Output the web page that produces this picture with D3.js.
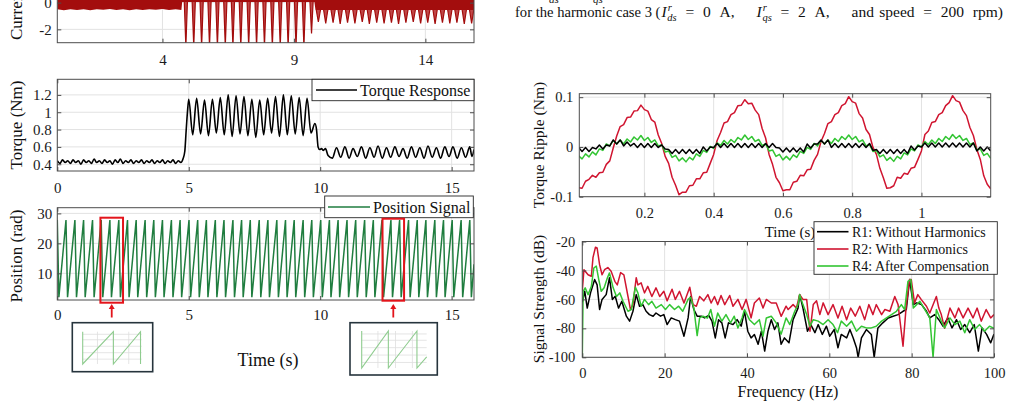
<!DOCTYPE html>
<html>
<head>
<meta charset="utf-8">
<script src="https://cdn.jsdelivr.net/npm/d3@7"></script>
<style>
  body { margin: 0; background: #fff; }
  svg { display: block; font-family: "Liberation Serif", "DejaVu Serif", serif; }
</style>
</head>
<body>
<svg id="chart" width="1015" height="402"></svg>
<script>
// ---------- data ----------

// current panel: dense band (lower edge) and the downward spikes
const currentBandEdge = [[0,-0.5],[0.25,-0.56],[0.5,-0.49],[0.75,-0.55],[1.0,-0.5],[1.25,-0.57],[1.5,-0.5],[1.75,-0.54],[2.0,-0.48],[2.25,-0.55],[2.5,-0.5],[2.75,-0.56],[3.0,-0.49],[3.25,-0.55],[3.5,-0.5],[3.75,-0.54],[4.0,-0.48],[4.25,-0.55],[4.5,-0.5],[4.72,-0.55],[4.75,0.05],[9.78,0.05],[9.82,-0.55],[15.85,-0.55]];
const currentSpikeTimes = [4.89,5.19,5.49,5.79,6.09,6.39,6.68,6.98,7.28,7.58,7.88,8.18,8.48,8.78,9.08,9.38,9.67,
  9.93,10.21,10.49,10.76,11.04,11.32,11.6,11.87,12.15,12.43,12.71,12.98,13.26,13.54,13.82,14.09,14.37,14.65,14.93,15.2,15.48,15.76];
const currentSpikeDepths = [-3.3,-3.3,-3.3,-3.3,-3.3,-3.3,-3.3,-3.3,-3.3,-3.3,-3.3,-3.3,-3.3,-3.3,-3.3,-3.3,-2.3,
  -1.45,-1.55,-1.5,-1.6,-1.5,-1.55,-1.45,-1.6,-1.5,-1.55,-1.5,-1.6,-1.5,-1.45,-1.55,-1.5,-1.6,-1.5,-1.55,-1.5,-1.6,-1.55];

// torque response [time, Nm]
const torqueResponse = [
  [0,0.44],[0.1,0.41],[0.2,0.45],[0.3,0.42],[0.4,0.44],[0.5,0.41],[0.6,0.45],[0.7,0.42],[0.8,0.44],[0.9,0.40],
  [1.0,0.45],[1.1,0.42],[1.2,0.44],[1.3,0.41],[1.4,0.46],[1.5,0.42],[1.6,0.44],[1.7,0.41],[1.8,0.45],[1.9,0.42],
  [2.0,0.44],[2.1,0.40],[2.2,0.45],[2.3,0.42],[2.4,0.46],[2.5,0.41],[2.6,0.44],[2.7,0.42],[2.8,0.45],[2.9,0.41],
  [3.0,0.44],[3.1,0.42],[3.2,0.45],[3.3,0.41],[3.4,0.44],[3.5,0.42],[3.6,0.45],[3.7,0.41],[3.8,0.44],[3.9,0.42],
  [4.0,0.45],[4.1,0.41],[4.2,0.44],[4.3,0.42],[4.4,0.45],[4.5,0.41],[4.6,0.44],[4.7,0.42],[4.78,0.46],
  [4.85,0.55],[4.9,0.78],[4.95,1.0],[5.0,1.15],
  [5.15,0.74],[5.3,1.16],[5.45,0.75],[5.6,1.14],[5.75,0.73],[5.9,1.15],[6.05,0.76],[6.2,1.17],[6.35,0.74],[6.5,1.2],
  [6.65,0.72],[6.8,1.19],[6.95,0.75],[7.1,1.18],[7.25,0.73],[7.4,1.15],[7.55,0.71],[7.7,1.14],[7.85,0.74],[8.0,1.16],
  [8.15,0.76],[8.3,1.18],[8.45,0.72],[8.6,1.2],[8.75,0.74],[8.9,1.19],[9.05,0.75],[9.2,1.17],[9.35,0.73],[9.5,1.16],
  [9.65,0.76],[9.8,0.87],[9.86,0.8],[9.92,0.6],[9.98,0.57],[10.05,0.58],[10.12,0.56],[10.2,0.58],[10.3,0.5],
  [10.46,0.47],[10.62,0.59],[10.78,0.48],[10.94,0.6],[11.1,0.47],[11.25,0.58],[11.41,0.49],[11.57,0.6],[11.73,0.47],
  [11.89,0.59],[12.05,0.48],[12.2,0.61],[12.36,0.47],[12.52,0.59],[12.68,0.48],[12.84,0.6],[13.0,0.49],[13.15,0.58],
  [13.31,0.47],[13.47,0.6],[13.63,0.48],[13.79,0.59],[13.95,0.47],[14.1,0.61],[14.26,0.48],[14.42,0.59],[14.58,0.47],
  [14.74,0.6],[14.9,0.49],[15.05,0.6],[15.21,0.47],[15.37,0.59],[15.53,0.48],[15.69,0.6],[15.77,0.49],[15.85,0.57]
];

// position signal: sawtooth peaks and the troughs right after each wrap
const positionPeakTimes = [0,0.33,0.67,1.0,1.34,1.67,2.0,2.34,2.67,3.0,3.34,3.67,4.0,4.34,4.67,5.01,5.34,5.67,6.01,6.34,
  6.68,7.01,7.34,7.68,8.01,8.35,8.68,9.01,9.35,9.68,10.02,10.35,10.68,11.02,11.35,11.69,12.02,12.35,12.69,13.02,
  13.36,13.69,14.02,14.36,14.69,15.02,15.36,15.69];
const positionTroughTimes = [0.06,0.39,0.73,1.06,1.4,1.73,2.06,2.4,2.73,3.06,3.4,3.73,4.06,4.4,4.73,5.07,5.4,5.73,6.07,6.4,
  6.74,7.07,7.4,7.74,8.07,8.41,8.74,9.07,9.41,9.74,10.08,10.41,10.74,11.08,11.41,11.75,12.08,12.41,12.75,13.08,
  13.42,13.75,14.08,14.42,14.75,15.08,15.42,15.75];
const positionHigh = 27.8;
const positionLow = 2.0;
const positionEnd = [15.85, 13];

// highlighted windows and their zoom insets (inset traces in 0..1 units)
const highlightWindows = [[1.64, 2.5], [12.37, 13.19]];
const insetTraces = [
  [[0,1],[0,0],[0.52,1],[0.52,0],[0.98,1],[0.98,0]],
  [[0,1],[0,0],[0.41,1],[0.41,0],[0.85,1],[0.85,0],[1,0.3]]
];

// torque ripple, sampled every 0.01 s from 0.01 s
const rippleStart = 0.01;
const rippleStep = 0.01;
const rippleR2 = [-0.082,-0.083,-0.069,-0.065,-0.057,-0.061,-0.052,-0.051,-0.035,-0.028,
  -0.002,0.022,0.041,0.045,0.059,0.060,0.072,0.073,0.084,0.075,
  0.072,0.055,0.050,0.024,0.007,-0.019,-0.033,-0.061,-0.077,-0.096,
  -0.091,-0.091,-0.078,-0.077,-0.064,-0.064,-0.052,-0.051,-0.033,-0.015,
  0.013,0.029,0.048,0.051,0.065,0.069,0.083,0.084,0.095,0.087,
  0.088,0.074,0.065,0.037,0.018,-0.015,-0.035,-0.061,-0.072,-0.088,
  -0.086,-0.086,-0.071,-0.069,-0.057,-0.058,-0.046,-0.045,-0.027,-0.015,
  0.011,0.027,0.047,0.051,0.065,0.069,0.083,0.087,0.101,0.091,
  0.088,0.067,0.058,0.035,0.025,-0.001,-0.015,-0.043,-0.062,-0.083,
  -0.082,-0.078,-0.061,-0.063,-0.053,-0.055,-0.043,-0.041,-0.025,-0.008,
  0.025,0.032,0.049,0.051,0.065,0.069,0.083,0.089,0.103,0.093,
  0.090,0.073,0.063,0.039,0.023,-0.005,-0.025,-0.058,-0.075,-0.084];
const rippleR1 = [-0.001,-0.009,-0.001,-0.009,-0.001,-0.004,0.004,-0.004,0.004,0.002,
  0.014,0.006,0.014,0.002,0.010,0.002,0.007,-0.001,0.007,-0.001,
  0.007,-0.001,0.007,-0.001,0.004,-0.004,-0.005,-0.013,-0.005,-0.013,
  -0.005,-0.013,-0.005,-0.013,-0.005,-0.013,0.000,-0.008,0.000,-0.001,
  0.007,-0.001,0.007,-0.001,0.007,-0.001,0.007,-0.001,0.007,-0.001,
  0.007,-0.001,0.007,-0.001,0.007,-0.001,0.007,-0.001,-0.002,-0.010,
  -0.002,-0.010,-0.002,-0.010,-0.002,-0.010,0.006,-0.002,0.006,0.006,
  0.014,0.006,0.014,-0.001,0.007,-0.001,0.007,-0.001,0.007,-0.001,
  0.007,-0.001,0.007,-0.001,0.007,-0.007,-0.005,-0.013,-0.005,-0.013,
  -0.005,-0.013,-0.005,-0.013,-0.005,-0.013,0.002,-0.006,0.002,0.000,
  0.008,0.000,0.008,0.000,0.008,0.000,0.008,0.000,0.008,0.000,
  0.008,0.000,0.008,0.000,0.008,-0.008,0.000,-0.008,0.000,-0.008];
const rippleR4 = [-0.018,-0.024,-0.014,-0.020,-0.010,-0.016,-0.004,-0.007,0.006,0.002,
  0.013,0.006,0.014,0.006,0.016,0.010,0.020,0.014,0.023,0.013,
  0.019,0.009,0.014,0.002,0.004,-0.010,-0.008,-0.021,-0.017,-0.028,
  -0.022,-0.030,-0.021,-0.026,-0.014,-0.019,-0.007,-0.011,0.001,-0.003,
  0.008,0.003,0.013,0.006,0.015,0.009,0.019,0.014,0.024,0.015,
  0.021,0.011,0.015,0.003,0.006,-0.008,-0.006,-0.019,-0.015,-0.026,
  -0.019,-0.026,-0.016,-0.021,-0.009,-0.013,-0.001,-0.005,0.007,0.002,
  0.013,0.006,0.014,0.007,0.017,0.011,0.021,0.015,0.024,0.015,
  0.021,0.010,0.014,0.002,0.005,-0.009,-0.007,-0.020,-0.016,-0.027,
  -0.021,-0.029,-0.019,-0.024,-0.012,-0.016,-0.004,-0.008,0.004,0.000,
  0.011,0.005,0.014,0.007,0.017,0.011,0.021,0.015,0.025,0.017,
  0.023,0.013,0.017,0.005,0.008,-0.006,-0.004,-0.017,-0.013,-0.023];

// spectrum [Hz, dB]
const spectrumR1 = [[0,-62],[0.6,-54.4],[1.2,-66],[2,-55.5],[3,-46.3],[3.6,-50],[4.2,-67],[4.8,-60],[5.8,-56.7],[6.6,-45],
  [7.3,-60],[8,-57.8],[8.8,-66],[9.6,-61.3],[10.7,-71.6],[11.5,-75],[12.3,-68.2],[13.1,-56.7],[13.9,-64.7],[14.7,-63.6],
  [15.5,-68.2],[16.3,-70.5],[17.2,-71.6],[17.9,-69.4],[19,-71.6],[19.8,-70.5],[20.6,-77.4],[21.6,-72.8],[22.6,-74],[23.6,-75],
  [24.7,-85.4],[25.7,-72.8],[26.3,-58],[27.1,-67],[27.9,-71.6],[28.9,-71.6],[29.7,-72.8],[30.7,-71],[31.5,-75],[32.3,-86.6],
  [33.1,-74],[33.9,-76.2],[34.7,-86.6],[35.5,-76.2],[36.6,-77.4],[37.6,-74],[38.6,-78.5],[39.4,-68.2],[40.2,-82],[41,-86.6],
  [41.8,-84.2],[42.7,-91],[43.5,-82],[44.3,-95.7],[45.1,-82],[45.9,-74],[46.7,-80.8],[47.5,-76.2],[48.3,-91],[49.1,-86.6],
  [50.2,-90],[51.2,-74],[52.4,-66],[52.8,-56.7],[53.6,-66],[54.7,-82],[55.5,-77.4],[56.5,-83],[57.3,-77.4],[58.3,-84.2],
  [59.3,-78.5],[60.1,-85.4],[61.2,-80.8],[62.1,-93.4],[62.9,-84.2],[64.2,-86.6],[65,-80.8],[65.8,-86.6],[66.6,-93.4],[67,-100],
  [67.8,-86.6],[69,-80.8],[70.2,-84.2],[70.9,-100],[71.8,-79.7],[73,-76.2],[74.3,-72.8],[75.5,-71.6],[76.7,-70.5],[77.9,-68.2],
  [78.7,-67],[79.5,-46.3],[80.4,-63.6],[81.2,-62.4],[82.4,-63.6],[83.6,-68.2],[84.4,-72.8],[85.6,-70.5],[86.6,-74],[87.6,-78.5],
  [88.8,-72.8],[89.8,-79.7],[90.9,-74],[91.9,-80.8],[92.9,-77.4],[94.1,-83],[95.2,-77.4],[96.2,-95.7],[97.1,-79.7],[98.2,-84.2],
  [99.2,-90],[100,-84]];
const spectrumR2 = [[0,-54],[0.4,-39.5],[1.4,-43],[2.2,-44],[2.6,-31],[3.2,-24],[3.6,-24.5],[4.2,-36],[4.8,-43],[5.4,-39.5],
  [6.2,-38],[7,-40.5],[7.9,-47.5],[8.5,-50],[9.3,-41.5],[10.1,-43],[11.1,-58],[11.7,-67],[12.3,-63.6],[13.1,-45],
  [13.5,-50],[14.3,-48.6],[15.1,-55.5],[15.9,-51],[16.9,-58],[17.9,-52],[18.8,-58],[19.8,-54.4],[20.6,-61],[21.8,-53],
  [22.6,-60],[23.6,-54.4],[24.7,-62.5],[26.1,-51.6],[26.9,-63.6],[27.7,-64.7],[28.5,-58],[29.5,-61],[30.5,-56.7],[31.3,-62.5],
  [32.1,-58],[32.9,-63.6],[33.7,-57.3],[34.6,-63.6],[35.8,-57.3],[36.6,-64.7],[37.8,-60],[38.8,-67],[39.8,-60],[41,-72.8],
  [41.8,-62.5],[43,-59],[43.9,-66],[44.7,-60],[45.9,-62.5],[47.1,-62.5],[48.3,-71.7],[49.5,-64.7],[50,-67],[51.2,-63.6],
  [52,-66],[52.8,-56.7],[53.6,-60],[54.5,-60],[55.3,-82],[56.1,-63.6],[56.9,-61],[57.7,-70.5],[58.5,-62.4],[59.7,-70.5],
  [60.9,-63.6],[62.1,-72.8],[63.1,-64.7],[64.2,-74],[65.2,-66],[66.3,-71.6],[67.4,-64.7],[68.6,-74],[69.6,-63.6],[70.6,-70.5],
  [71.4,-63.6],[72.7,-70.5],[73.5,-67],[74.7,-68.2],[75.9,-58],[76.7,-63.6],[77.9,-92.3],[78.7,-63.6],[79.5,-46.3],[79.9,-46.3],
  [80.7,-62.4],[81.5,-56.7],[82.3,-60],[83.6,-64.7],[84.4,-69.4],[86,-58],[86.6,-66],[87.2,-70.5],[88,-80],[89.3,-66],
  [90.5,-72.8],[91.4,-66],[92.5,-72.8],[93.7,-66],[94.9,-72.8],[95.9,-66],[96.9,-75],[98.1,-67],[99.2,-72.8],[100,-70.5]];
const spectrumR4 = [[0,-100],[0.2,-54.4],[0.7,-52],[1.4,-56.7],[2.2,-51],[2.8,-38.3],[3.4,-37],[4,-46.3],[4.6,-54.4],[5.3,-52],
  [6.1,-45],[6.6,-41.7],[7.5,-52],[8.3,-58],[9.1,-55.5],[9.9,-61.3],[11.1,-68.2],[11.9,-67],[12.9,-51.6],[13.5,-55.5],
  [14.3,-64.7],[15.1,-60],[16.1,-63.6],[16.9,-61.3],[17.9,-66],[19.2,-63.6],[20.2,-67],[21.2,-63.6],[22.4,-67],[23.4,-64.7],
  [24.4,-68.2],[25.7,-60],[26.3,-58.5],[27.1,-66],[27.9,-85],[28.5,-72.8],[29.3,-71.6],[30.4,-72.8],[31.2,-67],[32.1,-78.5],
  [32.9,-69.4],[33.9,-75],[34.9,-70.5],[36,-76.2],[36.9,-71.6],[37.8,-79.7],[38.8,-72.8],[39.4,-67],[40.6,-74],[41.8,-77.4],
  [43,-74],[43.9,-85.4],[44.7,-72.8],[45.9,-71.6],[47.1,-76.2],[48.3,-84],[49.5,-72.8],[50.4,-77.4],[51.6,-68.2],[52.4,-63.6],
  [52.8,-56.7],[53.6,-63.6],[54.5,-70.5],[55.3,-78.5],[56.1,-74],[57.3,-75],[58.5,-77.4],[59.7,-74],[60.9,-77.4],[62,-83],
  [62.9,-75],[64.2,-78.5],[65.4,-75],[66.6,-82],[67.8,-78.5],[69,-79.7],[70.2,-79.7],[71.4,-78.5],[72.7,-75],[73.9,-72.8],
  [75.1,-70.5],[76.3,-68.2],[77.5,-63.6],[78.3,-67],[79.1,-47.5],[79.8,-46.3],[80.4,-66],[81.2,-63.6],[82,-61.3],[83.2,-67],
  [84.4,-72.8],[85.2,-100],[86,-67],[87.2,-75],[88,-79.7],[89.3,-72.8],[90.5,-77.4],[91.7,-75],[92.9,-83],[94.1,-74],
  [95.3,-80.8],[96.5,-77.4],[97.7,-82],[98.9,-78.5],[100,-80]];

const seriesLabels = ["R1: Without Harmonics", "R2: With Harmonics", "R4: After Compensation"];
const seriesColors = ["#000000", "#d01530", "#33c533"];

// ---------- drawing ----------
const svg = d3.select("#chart");
const font = "Liberation Serif";
let clipCount = 0;

function panel(p) {
  const x = d3.scaleLinear().domain(p.xDomain).range([p.left, p.right]);
  const y = d3.scaleLinear().domain(p.yDomain).range([p.bottom, p.top]);
  const g = svg.append("g");
  const clipId = "clip" + clipCount++;
  g.append("clipPath").attr("id", clipId).append("rect")
    .attr("x", p.left).attr("y", p.top)
    .attr("width", p.right - p.left).attr("height", p.bottom - p.top);

  // grid
  g.append("g").selectAll("line").data(p.xTicks).join("line")
    .attr("x1", d => x(d)).attr("x2", d => x(d))
    .attr("y1", p.top).attr("y2", p.bottom)
    .attr("stroke", "#e2e2e2");
  g.append("g").selectAll("line").data(p.yTicks).join("line")
    .attr("x1", p.left).attr("x2", p.right)
    .attr("y1", d => y(d)).attr("y2", d => y(d))
    .attr("stroke", "#e2e2e2");

  const plot = g.append("g").attr("clip-path", `url(#${clipId})`);
  const axes = g.append("g");

  const fmt = d => String(d);
  const style = sel => {
    sel.select(".domain").remove();
    sel.selectAll(".tick line").attr("stroke", "#4d4d4d");
    sel.selectAll("text").attr("font-family", font).attr("font-size", p.tickFont || 15).attr("fill", "#1a1a1a");
  };
  axes.append("g").attr("transform", `translate(0,${p.bottom})`)
    .call(d3.axisBottom(x).tickValues(p.xTicks).tickSize(-4).tickPadding(p.xPad).tickFormat(fmt)).call(style);
  axes.append("g").attr("transform", `translate(0,${p.top})`)
    .call(d3.axisTop(x).tickValues(p.xTicks).tickSize(-4).tickFormat("")).call(style);
  axes.append("g").attr("transform", `translate(${p.left},0)`)
    .call(d3.axisLeft(y).tickValues(p.yTicks).tickSize(-4).tickPadding(p.yPad).tickFormat(fmt)).call(style);
  axes.append("g").attr("transform", `translate(${p.right},0)`)
    .call(d3.axisRight(y).tickValues(p.yTicks).tickSize(-4).tickFormat("")).call(style);

  return { x, y, g, plot, axes, p };
}

function drawBox(pn) {
  const p = pn.p;
  pn.g.append("rect")
    .attr("x", p.left).attr("y", p.top)
    .attr("width", p.right - p.left).attr("height", p.bottom - p.top)
    .attr("fill", "none").attr("stroke", "#4d4d4d").attr("stroke-width", 1);
}

function label(x, y, txt, size, rotate, anchor) {
  svg.append("text")
    .attr("transform", rotate ? `translate(${x},${y}) rotate(-90)` : `translate(${x},${y})`)
    .attr("text-anchor", anchor || "middle")
    .attr("font-family", font).attr("font-size", size).attr("fill", "#111")
    .text(txt);
}

// ----- current panel (top cut off) -----
const cur = panel({ left: 57.3, right: 474, top: -37.4, bottom: 42.7,
  xDomain: [0, 15.85], yDomain: [-3, 3], xTicks: [4, 9, 14], yTicks: [-2, 0, 2], xPad: 12, yPad: 5.5 });
const currentColor = "#a30d0d";
cur.plot.append("path").datum(currentBandEdge)
  .attr("d", d3.area().x(d => cur.x(d[0])).y0(cur.y(3)).y1(d => cur.y(d[1])))
  .attr("fill", currentColor);
const spikeLine = d3.line().x(d => cur.x(d[0])).y(d => cur.y(d[1]));
cur.plot.append("g").selectAll("path").data(currentSpikeTimes).join("path")
  .attr("d", (t, i) => {
    const depth = currentSpikeDepths[i];
    const w = depth < -2 ? 0.06 : 0.08;
    const top = t < 9.8 ? 0.05 : -0.55;
    return spikeLine([[t - w, top], [t, depth], [t + w, top]]);
  })
  .attr("fill", "#c04848").attr("stroke", currentColor).attr("stroke-width", 1.2);
drawBox(cur);
label(22, 40, "Current (A)", 17, true, "start");

// ----- torque response -----
const tq = panel({ left: 57.3, right: 474, top: 79.3, bottom: 171,
  xDomain: [0, 15.85], yDomain: [0.322, 1.38], xTicks: [0, 5, 10, 15], yTicks: [0.4, 0.6, 0.8, 1, 1.2], xPad: 11.5, yPad: 5.5 });
tq.plot.append("path").datum(torqueResponse)
  .attr("d", d3.line().curve(d3.curveMonotoneX).x(d => tq.x(d[0])).y(d => tq.y(d[1])))
  .attr("fill", "none").attr("stroke", "#000").attr("stroke-width", 1.6).attr("stroke-linejoin", "round");
drawBox(tq);
label(22, 125, "Torque (Nm)", 17, true);

// legend
tq.g.append("rect").attr("x", 312).attr("y", 79.3).attr("width", 162).attr("height", 21.4)
  .attr("fill", "#fff").attr("stroke", "#262626").attr("stroke-width", 0.9);
tq.g.append("line").attr("x1", 316).attr("x2", 357).attr("y1", 90).attr("y2", 90)
  .attr("stroke", "#000").attr("stroke-width", 1.6);
tq.g.append("text").attr("x", 360).attr("y", 95.5).attr("font-family", font).attr("font-size", 16)
  .attr("fill", "#111").text("Torque Response");

// ----- position signal -----
const pos = panel({ left: 57.3, right: 474, top: 207.7, bottom: 300,
  xDomain: [0, 15.85], yDomain: [1.1, 31.9], xTicks: [0, 5, 10, 15], yTicks: [10, 20, 30], xPad: 9.5, yPad: 5 });
const positionPoints = [];
positionPeakTimes.forEach((t, i) => {
  positionPoints.push([t, positionHigh]);
  positionPoints.push([positionTroughTimes[i], positionLow]);
});
positionPoints.push(positionEnd);
const posColor = "#1f7d3f";
pos.plot.append("path").datum(positionPoints)
  .attr("d", d3.line().x(d => pos.x(d[0])).y(d => pos.y(d[1])))
  .attr("fill", "none").attr("stroke", posColor).attr("stroke-width", 1.5);
drawBox(pos);
label(22, 256, "Position (rad)", 17, true);

pos.g.append("rect").attr("x", 324.7).attr("y", 196).attr("width", 148.6).attr("height", 21.7)
  .attr("fill", "#fff").attr("stroke", "#262626").attr("stroke-width", 0.9);
pos.g.append("line").attr("x1", 328).attr("x2", 370).attr("y1", 207).attr("y2", 207)
  .attr("stroke", posColor).attr("stroke-width", 1.6);
pos.g.append("text").attr("x", 373).attr("y", 212.5).attr("font-family", font).attr("font-size", 16)
  .attr("fill", "#111").text("Position Signal");

// highlight windows, arrows and insets
const insetBoxes = [{ x0: 72.3, x1: 152.7, y0: 322.7, y1: 371.7, ix0: 82.7, ix1: 141.7, iy0: 331.7, iy1: 364 },
                    { x0: 350, x1: 437.3, y0: 322.7, y1: 375, ix0: 361.7, ix1: 426.7, iy0: 331, iy1: 368 }];
highlightWindows.forEach((w, i) => {
  const xa = pos.x(w[0]), xb = pos.x(w[1]);
  svg.append("rect").attr("x", xa).attr("y", i === 0 ? 217.7 : 218.7)
    .attr("width", xb - xa).attr("height", i === 0 ? 85 : 82)
    .attr("fill", "none").attr("stroke", "#e3141b").attr("stroke-width", 2);
  const xm = (xa + xb) / 2;
  svg.append("line").attr("x1", xm).attr("x2", xm).attr("y1", 317.5).attr("y2", 308)
    .attr("stroke", "#e3141b").attr("stroke-width", 1.8);
  svg.append("path").attr("d", `M${xm - 3},${309} L${xm},${304} L${xm + 3},${309} Z`).attr("fill", "#e3141b");

  const b = insetBoxes[i];
  const ix = d3.scaleLinear().domain([0, 1]).range([b.ix0, b.ix1]);
  const iy = d3.scaleLinear().domain([0, 1]).range([b.iy1, b.iy0]);
  const ig = svg.append("g");
  ig.append("rect").attr("x", b.x0).attr("y", b.y0).attr("width", b.x1 - b.x0).attr("height", b.y1 - b.y0)
    .attr("fill", "#fff").attr("stroke", "#26343d").attr("stroke-width", 1.6);
  ig.selectAll(".h").data([0.15, 0.35, 0.55, 0.75, 0.92]).join("line")
    .attr("x1", ix(0)).attr("x2", ix(1)).attr("y1", d => iy(d)).attr("y2", d => iy(d))
    .attr("stroke", "#dedede").attr("stroke-width", 0.8);
  ig.selectAll(".v").data([0.25, 0.52, 0.78]).join("line")
    .attr("x1", d => ix(d)).attr("x2", d => ix(d)).attr("y1", iy(0)).attr("y2", iy(1))
    .attr("stroke", "#dedede").attr("stroke-width", 0.8);
  ig.append("path").datum(insetTraces[i])
    .attr("d", d3.line().x(d => ix(d[0])).y(d => iy(d[1])))
    .attr("fill", "none").attr("stroke", "#8fcc8f").attr("stroke-width", 1.1);
});
label(268, 366, "Time (s)", 18);

// ----- torque ripple -----
const rp = panel({ left: 579.3, right: 990.7, top: 93.7, bottom: 196.7,
  xDomain: [0.012, 1.2], yDomain: [-0.1, 0.107], xTicks: [0.2, 0.4, 0.6, 0.8, 1], yTicks: [-0.1, 0, 0.1],
  xPad: 11, yPad: 6, tickFont: 14.5 });
const rippleLine = d3.line().x((d, i) => rp.x(rippleStart + i * rippleStep)).y(d => rp.y(d));
[[rippleR2, 1], [rippleR4, 2], [rippleR1, 0]].forEach(([vals, k]) => {
  rp.plot.append("path").datum(vals).attr("d", rippleLine)
    .attr("fill", "none").attr("stroke", seriesColors[k]).attr("stroke-width", 1.5).attr("stroke-linejoin", "round");
});
drawBox(rp);
label(544, 145, "Torque Ripple (Nm)", 15.5, true);
label(790, 237, "Time (s)", 15);

// ----- spectrum -----
const sp = panel({ left: 582.3, right: 994, top: 241.5, bottom: 357.3,
  xDomain: [0, 100], yDomain: [-100, -20], xTicks: [0, 20, 40, 60, 80, 100], yTicks: [-100, -80, -60, -40, -20],
  xPad: 10.5, yPad: 7, tickFont: 14.5 });
const specLine = d3.line().x(d => sp.x(d[0])).y(d => sp.y(d[1]));
[spectrumR1, spectrumR2, spectrumR4].forEach((s, k) => {
  sp.plot.append("path").datum(s).attr("d", specLine)
    .attr("fill", "none").attr("stroke", seriesColors[k]).attr("stroke-width", 1.5).attr("stroke-linejoin", "round");
});
drawBox(sp);
label(544, 299, "Signal Strength (dB)", 15.5, true);
label(788, 397, "Frequency (Hz)", 16);

// shared legend
const lg = svg.append("g");
lg.append("rect").attr("x", 814).attr("y", 221.7).attr("width", 183.3).attr("height", 52.6)
  .attr("fill", "#fff").attr("stroke", "#262626").attr("stroke-width", 0.9);
const rows = lg.selectAll("g.row").data(seriesLabels).join("g")
  .attr("transform", (d, i) => `translate(0,${[231.7, 249, 266][i]})`);
rows.append("line").attr("x1", 817).attr("x2", 848.5).attr("y1", 0).attr("y2", 0)
  .attr("stroke", (d, i) => seriesColors[i]).attr("stroke-width", 1.6);
rows.append("text").attr("x", 852).attr("y", 5).attr("font-family", font).attr("font-size", 14)
  .attr("fill", "#111").text(d => d);

// ----- caption fragment (top right) -----
// pieces: [text, italic, size, dy, dx, gap weight before it]
const capPieces = [
  ["for the harmonic case 3 (", false, 14.6, 0, 0, 0],
  ["I", true, 15.5, 0, 1, 0],
  ["r", true, 10.5, -6, 1, 0],
  ["ds", true, 10.5, 10, -4, 0],
  ["=", false, 15.5, -4, 0, 1],
  ["0", false, 15.5, 0, 0, 1],
  ["A,", false, 15.5, 0, 0, 1],
  ["I", true, 15.5, 0, 0, 2.5],
  ["r", true, 10.5, -6, 1, 0],
  ["qs", true, 10.5, 10, -4, 0],
  ["=", false, 15.5, -4, 0, 1],
  ["2", false, 15.5, 0, 0, 1],
  ["A,", false, 15.5, 0, 0, 1],
  ["and", false, 15.5, 0, 0, 2.5],
  ["speed", false, 15.5, 0, 0, 0.6],
  ["=", false, 15.5, 0, 0, 1],
  ["200", false, 15.5, 0, 0, 1],
  ["rpm)", false, 15.5, 0, 0, 1]
];
const cap = svg.append("text").attr("x", 515).attr("y", 17).attr("font-family", font).attr("fill", "#111");
const capSpans = capPieces.map(c => cap.append("tspan")
  .attr("font-style", c[1] ? "italic" : "normal").attr("font-size", c[2])
  .attr("dy", c[3]).attr("dx", c[4]).text(c[0]));
// spread the math spacing so the line runs out to x = 1003 like the original
const natural = cap.node().getBBox().width;
const totalWeight = d3.sum(capPieces, c => c[5]);
const unit = Math.max(0, (488 - natural) / totalWeight);
capSpans.forEach((s, i) => s.attr("dx", capPieces[i][4] + capPieces[i][5] * unit));

svg.append("text").attr("x", 549).attr("y", 3).attr("font-family", font).attr("font-style", "italic")
  .attr("font-size", 11).attr("fill", "#111").text("ds");
svg.append("text").attr("x", 593).attr("y", 3).attr("font-family", font).attr("font-style", "italic")
  .attr("font-size", 11).attr("fill", "#111").text("qs");
</script>
</body>
</html>
